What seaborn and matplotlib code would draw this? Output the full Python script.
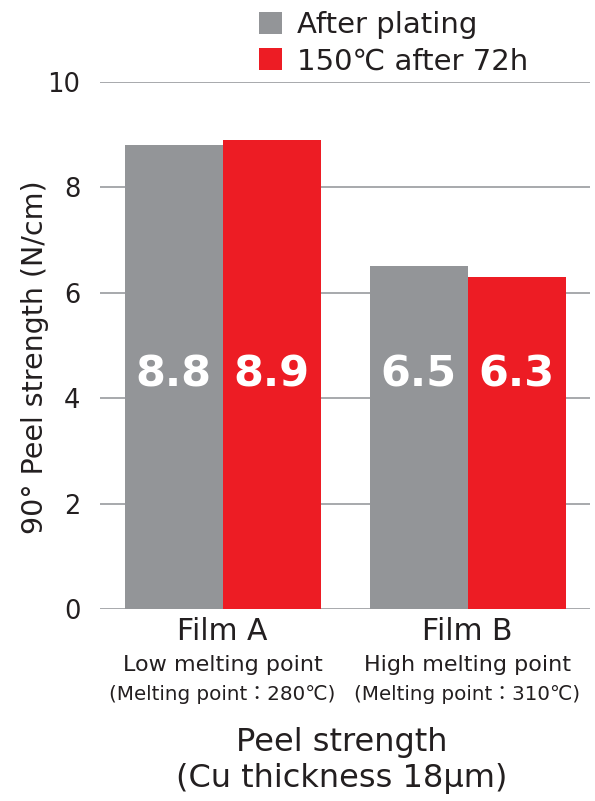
import matplotlib
matplotlib.use("Agg")
import matplotlib.pyplot as plt
from matplotlib.patches import Patch
import seaborn as sns
import pandas as pd

# Data
films = ["Film A", "Film B"]
film_notes = ["Low melting point", "High melting point"]
melting_points = ["(Melting point：280℃)", "(Melting point：310℃)"]
conditions = ["After plating", "150℃ after 72h"]
after_plating = [8.8, 6.5]
after_aging = [8.9, 6.3]
y_ticks = [0, 2, 4, 6, 8, 10]

GRAY = "#939598"
RED = "#ED1C24"
TEXT = "#231F20"

df = pd.DataFrame({
    "film": films * 2,
    "condition": [conditions[0]] * 2 + [conditions[1]] * 2,
    "strength": after_plating + after_aging,
})

sns.set_theme(style="white")
plt.rcParams["font.family"] = ["DejaVu Sans", "Noto Sans CJK JP"]
plt.rcParams["text.color"] = TEXT

fig = plt.figure(figsize=(5.95, 8.01), dpi=100)
ax = fig.add_axes([100 / 595, 1 - 609 / 801, 490 / 595, (609 - 82) / 801])

sns.barplot(data=df, x="film", y="strength", hue="condition",
            palette=[GRAY, RED], width=0.8, saturation=1, gap=0,
            errorbar=None, legend=False, linewidth=0, ax=ax, zorder=3)

ax.set_xlim(-0.5, 1.5)
ax.set_ylim(0, 10)
ax.set_yticks(y_ticks)
ax.set_yticklabels([str(t) for t in y_ticks], fontsize=18.5, color=TEXT)
ax.tick_params(axis="y", length=0, pad=14)
ax.yaxis.grid(True, color="#a7a9ac", linewidth=1.4, zorder=0)
for s in ax.spines.values():
    s.set_visible(False)
ax.set_xlabel("")
ax.set_ylabel("")

# Value labels inside the bars
for cont in ax.containers:
    for patch, val in zip(cont.patches, cont.datavalues):
        ax.text(patch.get_x() + patch.get_width() / 2, 4.45, f"{val:.1f}",
                ha="center", va="center", color="white",
                fontsize=31, fontweight="bold", zorder=5)

# Category labels with notes
ax.set_xticks(range(len(films)))
ax.set_xticklabels(films, fontsize=21.5, color=TEXT)
ax.tick_params(axis="x", length=0, pad=6)
for i in range(len(films)):
    ax.text(i, 1 - (665 - 82) / 527, film_notes[i], transform=ax.get_xaxis_transform(),
            ha="center", va="center", fontsize=16, color=TEXT)
    ax.text(i, 1 - (694 - 82) / 527, melting_points[i], transform=ax.get_xaxis_transform(),
            ha="center", va="center", fontsize=14.3, color=TEXT)

fig.text(0.5 * (100 + 590) / 595 - 0.005, 1 - 742 / 801, "Peel strength",
         ha="center", va="center", fontsize=23, color=TEXT)
fig.text(0.5 * (100 + 590) / 595 - 0.005, 1 - 778 / 801, "(Cu thickness 18μm)",
         ha="center", va="center", fontsize=23, color=TEXT)

fig.text(35 / 595, 1 - 357 / 801, "90° Peel strength (N/cm)", rotation=90,
         ha="center", va="center", fontsize=20.5, color=TEXT)

handles = [Patch(facecolor=GRAY, edgecolor="none"), Patch(facecolor=RED, edgecolor="none")]
fig.legend(handles, conditions, loc="upper left", bbox_to_anchor=(256 / 595, 1 - 8 / 801),
           frameon=False, fontsize=21, handlelength=0.8, handleheight=0.8,
           handletextpad=0.5, labelspacing=0.29, borderaxespad=0, borderpad=0.1)

fig.savefig("out.png", dpi=100)
